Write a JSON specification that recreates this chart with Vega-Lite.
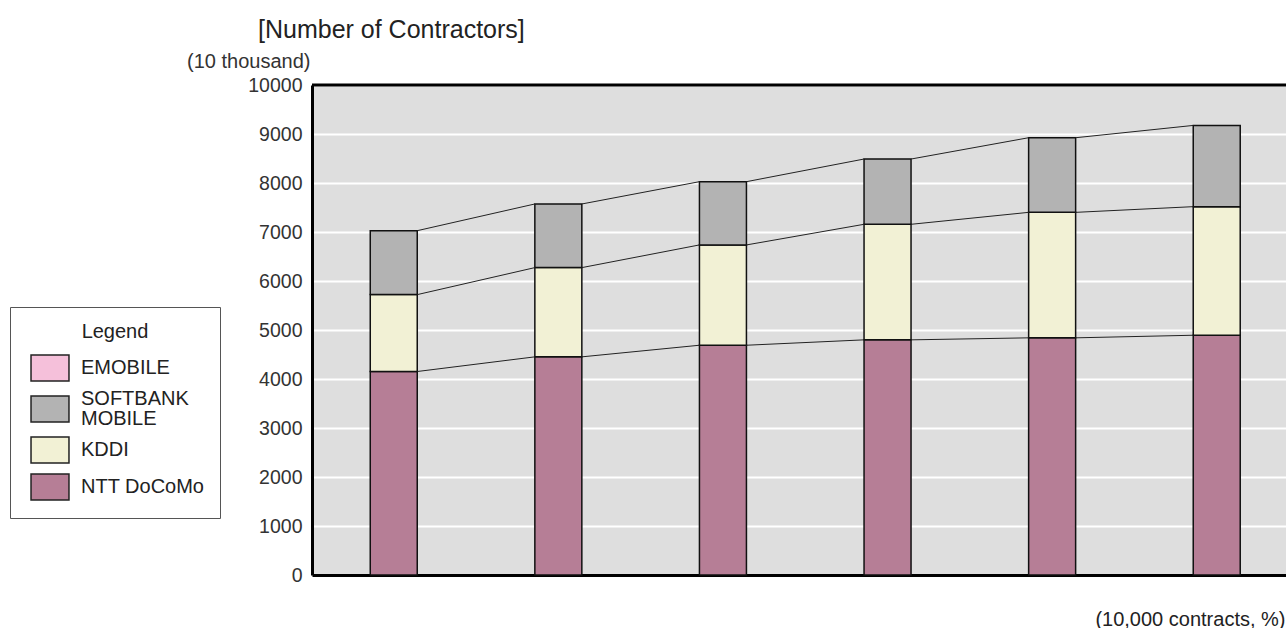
{
  "$schema": "https://vega.github.io/schema/vega-lite/v6.json",
  "width": 974,
  "height": 490,
  "autosize": {"type": "none"},
  "padding": {"left": 312, "top": 85, "right": 0, "bottom": 53},
  "background": "white",
  "config": {
    "view": {"fill": "#dedede", "stroke": null},
    "font": "Liberation Sans"
  },
  "title": {
    "text": "[Number of Contractors]",
    "anchor": "start",
    "frame": "group",
    "dx": -54,
    "fontSize": 25,
    "fontWeight": "normal",
    "color": "#222",
    "font": "Liberation Sans",
    "offset": 8
  },
  "datasets": {
    "contracts": [
      {"year": "1", "company": "NTT DoCoMo", "value": 4153},
      {"year": "1", "company": "KDDI", "value": 1569},
      {"year": "1", "company": "SOFTBANK MOBILE", "value": 1305},
      {"year": "2", "company": "NTT DoCoMo", "value": 4452},
      {"year": "2", "company": "KDDI", "value": 1821},
      {"year": "2", "company": "SOFTBANK MOBILE", "value": 1299},
      {"year": "3", "company": "NTT DoCoMo", "value": 4689},
      {"year": "3", "company": "KDDI", "value": 2047},
      {"year": "3", "company": "SOFTBANK MOBILE", "value": 1291},
      {"year": "4", "company": "NTT DoCoMo", "value": 4799},
      {"year": "4", "company": "KDDI", "value": 2358},
      {"year": "4", "company": "SOFTBANK MOBILE", "value": 1332},
      {"year": "5", "company": "NTT DoCoMo", "value": 4840},
      {"year": "5", "company": "KDDI", "value": 2561},
      {"year": "5", "company": "SOFTBANK MOBILE", "value": 1523},
      {"year": "6", "company": "NTT DoCoMo", "value": 4893},
      {"year": "6", "company": "KDDI", "value": 2624},
      {"year": "6", "company": "SOFTBANK MOBILE", "value": 1658}
    ]
  },
  "layer": [
    {
      "data": {"name": "contracts"},
      "transform": [
        {"calculate": "indexof(['NTT DoCoMo','KDDI','SOFTBANK MOBILE','EMOBILE'], datum.company)", "as": "rank"}
      ],
      "mark": {"type": "bar", "stroke": "#111", "strokeWidth": 1.5},
      "encoding": {
        "x": {
          "field": "year",
          "type": "ordinal",
          "scale": {"paddingInner": 0.7145, "paddingOuter": 0.316, "align": 0.56},
          "axis": {
            "labels": false,
            "ticks": false,
            "grid": false,
            "domainColor": "#000",
            "domainWidth": 3,
            "title": "(10,000 contracts, %)",
            "titleX": 973,
            "titleY": 44,
            "titleAlign": "right",
            "titleBaseline": "middle",
            "titleFontSize": 20,
            "titleFontWeight": "normal",
            "titleColor": "#222",
            "titleFont": "Liberation Sans"
          }
        },
        "y": {
          "field": "value",
          "type": "quantitative",
          "stack": "zero",
          "scale": {"domain": [0, 10000], "nice": false},
          "axis": {
            "values": [0, 1000, 2000, 3000, 4000, 5000, 6000, 7000, 8000, 9000, 10000],
            "format": "d",
            "tickSize": 0,
            "labelPadding": 10,
            "labelFontSize": 19.5,
            "labelColor": "#333",
            "labelFont": "Liberation Sans",
            "domainColor": "#000",
            "domainWidth": 3,
            "grid": true,
            "gridColor": "#ffffff",
            "gridWidth": 2,
            "title": "(10 thousand)",
            "titleAngle": 0,
            "titleX": -2,
            "titleY": -24,
            "titleAlign": "right",
            "titleBaseline": "middle",
            "titleFontSize": 20,
            "titleFontWeight": "normal",
            "titleColor": "#333",
            "titleFont": "Liberation Sans"
          }
        },
        "color": {
          "field": "company",
          "type": "nominal",
          "scale": {
            "domain": ["EMOBILE", "SOFTBANK MOBILE", "KDDI", "NTT DoCoMo"],
            "range": ["#f5c0da", "#b3b3b3", "#f2f1d5", "#b67e96"]
          },
          "legend": {
            "orient": "none",
            "legendX": -302,
            "legendY": 222,
            "title": "Legend",
            "titleFontSize": 20,
            "titleFontWeight": "normal",
            "titleColor": "#222",
            "titleFont": "Liberation Sans",
            "titleAnchor": "middle",
            "titlePadding": 12,
            "labelFontSize": 20,
            "labelColor": "#222",
            "labelFont": "Liberation Sans",
            "labelOffset": 17,
            "labelExpr": "datum.label == 'SOFTBANK MOBILE' ? ['SOFTBANK', 'MOBILE'] : datum.label",
            "symbolType": "M-1.46,-1H1.46V1H-1.46Z",
            "symbolSize": 676,
            "symbolOffset": 11,
            "symbolStrokeColor": "#222",
            "symbolStrokeWidth": 1.5,
            "symbolOpacity": 1,
            "strokeColor": "#555",
            "fillColor": "#ffffff",
            "padding": 15,
            "rowPadding": 5,
            "encode": {
              "labels": {
                "update": {
                  "lineHeight": {"value": 20},
                  "dy": [
                    {"test": "datum.value === 'SOFTBANK MOBILE'", "value": -10},
                    {"value": 0}
                  ]
                }
              }
            }
          }
        },
        "order": {"field": "rank", "type": "quantitative", "sort": "ascending"}
      }
    },
    {
      "data": {"name": "contracts"},
      "transform": [
        {"calculate": "indexof(['NTT DoCoMo','KDDI','SOFTBANK MOBILE','EMOBILE'], datum.company)", "as": "rank"},
        {"stack": "value", "groupby": ["year"], "sort": [{"field": "rank", "order": "ascending"}], "as": ["y0", "y1"]},
        {"window": [{"op": "lead", "field": "y1", "as": "ny"}, {"op": "lead", "field": "year", "as": "nyear"}], "groupby": ["company"], "sort": [{"field": "year", "order": "ascending"}]},
        {"filter": "datum.nyear != null"}
      ],
      "mark": {"type": "rule", "color": "#222", "strokeWidth": 1},
      "encoding": {
        "x": {"field": "year", "type": "ordinal", "bandPosition": 1},
        "x2": {"field": "nyear", "bandPosition": 0},
        "y": {"field": "y1", "type": "quantitative"},
        "y2": {"field": "ny"}
      }
    },
    {
      "data": {"values": [{}]},
      "mark": {"type": "rule", "color": "#000", "strokeWidth": 3},
      "encoding": {"y": {"datum": 10000}}
    }
  ]
}
